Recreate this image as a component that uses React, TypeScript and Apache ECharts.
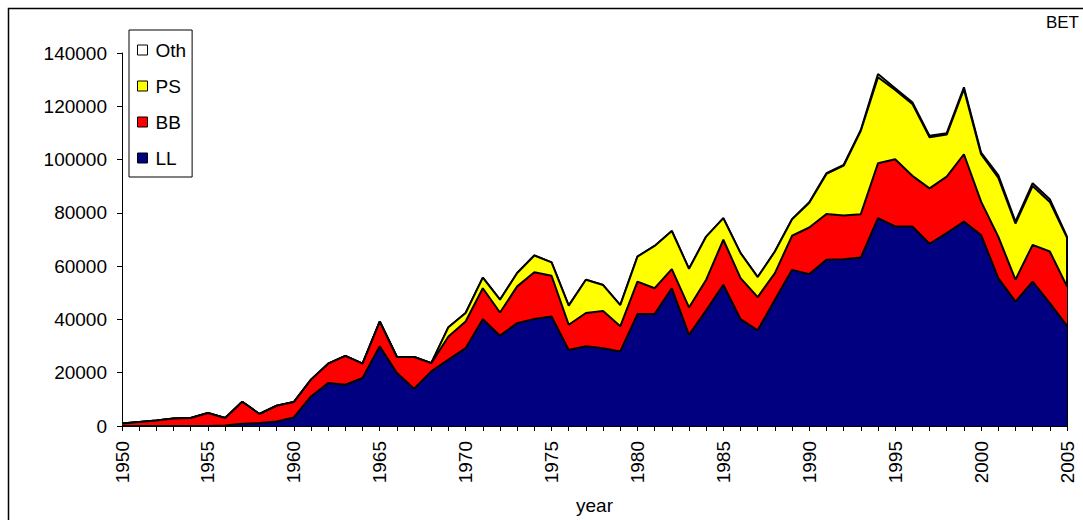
import React, { useEffect, useRef } from "react";
import * as echarts from "echarts";

const years = [
  "1950","1951","1952","1953","1954","1955","1956","1957","1958","1959",
  "1960","1961","1962","1963","1964","1965","1966","1967","1968","1969",
  "1970","1971","1972","1973","1974","1975","1976","1977","1978","1979",
  "1980","1981","1982","1983","1984","1985","1986","1987","1988","1989",
  "1990","1991","1992","1993","1994","1995","1996","1997","1998","1999",
  "2000","2001","2002","2003","2004","2005",
];

const LL = [
  0, 0, 0, 0, 0, 0, 200, 800, 1100, 1700,
  3200, 11100, 16100, 15500, 18000, 29900, 19900, 14000, 20500, 24900,
  29200, 40100, 33900, 38600, 40200, 41100, 28500, 29900, 29200, 28000,
  42000, 42000, 51700, 34200, 43400, 53000, 40100, 35900, 47400, 58600,
  57000, 62400, 62600, 63200, 78000, 74900, 74900, 68400, 72400, 76700,
  71700, 55500, 46700, 54200, 46100, 37600,
];

const BB = [
  900, 1500, 2100, 2800, 3000, 4900, 2800, 8300, 3400, 5900,
  5800, 6300, 7300, 10800, 5400, 9300, 6000, 11900, 3100, 8700,
  10000, 11600, 8700, 13800, 17500, 15300, 9500, 12500, 14000, 9400,
  12200, 9700, 7200, 10300, 11500, 16900, 15400, 12500, 10000, 12800,
  17500, 17200, 16400, 16300, 20600, 25200, 19000, 20800, 21200, 25300,
  12500, 15600, 8200, 13800, 19400, 14800,
];

const PS = [
  0, 0, 0, 0, 0, 0, 0, 0, 0, 0,
  0, 0, 0, 0, 0, 0, 0, 0, 0, 3500,
  3200, 4000, 4800, 5000, 6300, 5000, 7200, 12500, 9700, 8000,
  9400, 15900, 14300, 14500, 16200, 8100, 9400, 7500, 8100, 6200,
  9300, 15000, 18700, 31300, 32300, 26000, 27000, 19200, 15800, 24400,
  17800, 22100, 21100, 22100, 18600, 18300,
];

const Oth = [
  0, 0, 0, 0, 0, 0, 0, 0, 0, 0,
  0, 0, 0, 0, 0, 0, 0, 0, 0, 0,
  0, 0, 0, 0, 0, 0, 0, 0, 0, 0,
  0, 0, 0, 0, 0, 0, 0, 0, 0, 0,
  200, 300, 300, 300, 1200, 700, 600, 500, 500, 700,
  600, 1000, 700, 1000, 1000, 400,
];

const seriesDefs = [
  { name: "LL", data: LL, color: "#000080", z: 6 },
  { name: "BB", data: BB, color: "#FF0000", z: 5 },
  { name: "PS", data: PS, color: "#FFFF00", z: 4 },
  { name: "Oth", data: Oth, color: "#FFFFFF", z: 3 },
];

const FONT = "'Liberation Sans', Arial, sans-serif";
const FS = 19;

export default function App() {
  const ref = useRef<HTMLDivElement>(null);
  useEffect(() => {
    if (!ref.current) return;
    const chart = echarts.init(ref.current, null, { renderer: "svg" });
    const last = years.length - 1;
    const lastTotal = LL[last] + BB[last] + PS[last] + Oth[last];
    chart.setOption({
      animation: false,
      backgroundColor: "#ffffff",
      textStyle: { fontFamily: FONT, color: "#000" },
      grid: {
        left: 122,
        right: 16,
        top: 53,
        bottom: 94,
        containLabel: false,
        outerBoundsMode: "none",
      },
      legend: {
        data: ["Oth", "PS", "BB", "LL"],
        orient: "vertical",
        left: 129,
        top: 30,
        icon: "rect",
        itemWidth: 10,
        itemHeight: 10,
        itemGap: 16,
        padding: [10, 6, 9, 8],
        borderColor: "#000",
        borderWidth: 1,
        backgroundColor: "#fff",
        itemStyle: { borderColor: "#000", borderWidth: 1 },
        textStyle: { fontFamily: FONT, fontSize: FS, color: "#000", lineHeight: 20, padding: [0, 0, 0, 3] },
      },
      xAxis: {
        type: "category",
        data: years,
        boundaryGap: false,
        name: "year",
        nameLocation: "middle",
        nameGap: 70,
        nameTextStyle: { fontFamily: FONT, fontSize: FS, color: "#000" },
        axisLine: { lineStyle: { color: "#000", width: 1 } },
        axisTick: { show: true, interval: 0, length: 5, lineStyle: { color: "#000" } },
        axisLabel: {
          interval: 4,
          rotate: 90,
          margin: 15,
          fontFamily: FONT,
          fontSize: FS,
          color: "#000",
        },
        splitLine: { show: false },
      },
      yAxis: {
        type: "value",
        min: 0,
        max: 140000,
        interval: 20000,
        axisLine: { show: true, lineStyle: { color: "#000", width: 1 } },
        axisTick: { show: true, length: 5, lineStyle: { color: "#000" } },
        axisLabel: {
          margin: 15,
          fontFamily: FONT,
          fontSize: FS,
          color: "#000",
          formatter: (v: number) => String(v),
        },
        splitLine: { show: false },
      },
      graphic: [
        {
          type: "rect",
          left: 6,
          top: 6,
          shape: { x: 0, y: 0, width: 1200, height: 600 },
          style: { fill: "none", stroke: "#000", lineWidth: 1.5 },
          silent: true,
          z: -10,
        },
        {
          type: "text",
          right: 4,
          top: 14,
          style: { text: "BET", fontFamily: FONT, fontSize: 17, fill: "#000" },
        },
      ],
      series: seriesDefs.map((s, i) => ({
        name: s.name,
        type: "line",
        stack: "total",
        data: s.data,
        showSymbol: false,
        symbol: "none",
        z: s.z,
        itemStyle: { color: s.color },
        lineStyle: { color: "#000", width: 2 },
        areaStyle: { color: s.color, opacity: 1 },
        ...(i === 0
          ? {
              markLine: {
                silent: true,
                symbol: "none",
                label: { show: false },
                lineStyle: { color: "#000", width: 2, type: "solid" },
                data: [
                  [
                    { coord: [years[last], 0] },
                    { coord: [years[last], lastTotal] },
                  ],
                ],
              },
            }
          : {}),
      })),
    });
    return () => chart.dispose();
  }, []);
  return (
    <div
      ref={ref}
      style={{ position: "fixed", left: 0, top: 0, width: 1083, height: 520 }}
    />
  );
}
